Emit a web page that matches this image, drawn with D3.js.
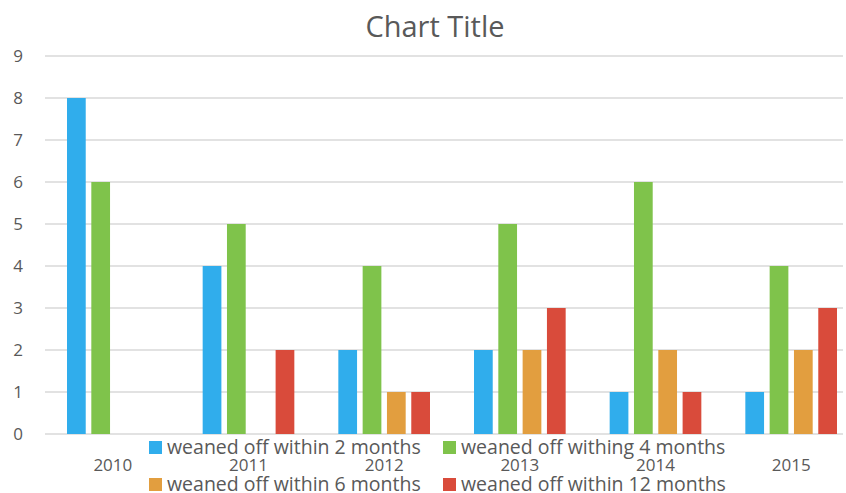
<!DOCTYPE html>
<html>
<head>
<meta charset="utf-8">
<script src="https://cdn.jsdelivr.net/npm/d3@7"></script>
<style>
  body { margin: 0; background: #fff; }
  text { font-family: "Open Sans", sans-serif; fill: #595959; }
</style>
</head>
<body>
<div class="chart-container"></div>
<script>
// data
const years = ['2010', '2011', '2012', '2013', '2014', '2015']
const seriesNames = [
    'weaned off within 2 months',
    'weaned off withing 4 months',
    'weaned off within 6 months',
    'weaned off within 12 months'
]
const within2 = [8, 4, 2, 2, 1, 1]
const within4 = [6, 5, 4, 5, 6, 4]
const within6 = [0, 0, 1, 2, 2, 2]
const within12 = [0, 2, 1, 3, 1, 3]
const yTicks = [0, 1, 2, 3, 4, 5, 6, 7, 8, 9]
const colors = ['#30ADEC', '#7FC34B', '#E29E3F', '#D94B3B']

let dims = {
    width: 846,
    height: 493,
    margin: { top: 56, bottom: 59, left: 45, right: -13 }
}

const svg = d3.select('.chart-container')
    .append('svg')
    .attr('width', dims.width)
    .attr('height', dims.height)

const allSeries = [within2, within4, within6, within12]
const rows = []
years.forEach((y, i) => {
    seriesNames.forEach((s, j) => {
        rows.push({ year: y, series: s, value: allSeries[j][i], color: colors[j] })
    })
})

const xScale = d3.scaleBand()
    .domain(years)
    .range([dims.margin.left, dims.width - dims.margin.right])

const innerPad = 22
const x1 = d3.scaleBand()
    .domain(seriesNames)
    .range([innerPad, xScale.bandwidth() - innerPad])
    .paddingInner(0.23)

const yScale = d3.scaleLinear()
    .domain([0, 9])
    .range([dims.height - dims.margin.bottom, dims.margin.top])

// gridlines
svg.append('g')
    .selectAll('line')
    .data(yTicks)
    .join('line')
    .attr('x1', dims.margin.left)
    .attr('x2', 843)
    .attr('y1', d => yScale(d))
    .attr('y2', d => yScale(d))
    .attr('stroke', '#D9D9D9')
    .attr('stroke-width', 1.5)

// y labels
const yAxis = d3.axisLeft(yScale).tickValues(yTicks).tickSize(0).tickPadding(0)
svg.append('g')
    .attr('transform', 'translate(23,0)')
    .call(yAxis)
    .call(g => g.select('.domain').remove())
    .selectAll('text')
    .attr('font-size', '17px')
    .attr('font-family', '"Open Sans", sans-serif')
    .attr('fill', '#595959')

// bars
svg.append('g')
    .selectAll('rect')
    .data(rows.filter(d => d.value > 0))
    .join('rect')
    .attr('x', d => xScale(d.year) + x1(d.series))
    .attr('y', d => yScale(d.value))
    .attr('width', x1.bandwidth())
    .attr('height', d => yScale(0) - yScale(d.value))
    .attr('fill', d => d.color)

// x labels
const xAxis = d3.axisBottom(xScale).tickSize(0).tickPadding(0)
svg.append('g')
    .attr('transform', 'translate(0,459)')
    .call(xAxis)
    .call(g => g.select('.domain').remove())
    .selectAll('text')
    .attr('font-size', '17px')
    .attr('font-family', '"Open Sans", sans-serif')
    .attr('fill', '#595959')

// title
svg.append('text')
    .attr('x', 435)
    .attr('y', 37)
    .attr('text-anchor', 'middle')
    .attr('font-size', '29px')
    .text('Chart Title')

// legend
const legendPos = [[149, 447], [443, 447], [149, 484], [443, 484]]
const legend = svg.append('g')
    .selectAll('g')
    .data(seriesNames)
    .join('g')
    .attr('transform', (d, i) => `translate(${legendPos[i][0]},${legendPos[i][1]})`)

legend.append('rect')
    .attr('x', 0)
    .attr('y', -6)
    .attr('width', 13)
    .attr('height', 13)
    .attr('fill', (d, i) => colors[i])

legend.append('text')
    .attr('x', 18)
    .attr('y', 7)
    .attr('font-size', '19.5px')
    .text(d => d)
</script>
</body>
</html>
